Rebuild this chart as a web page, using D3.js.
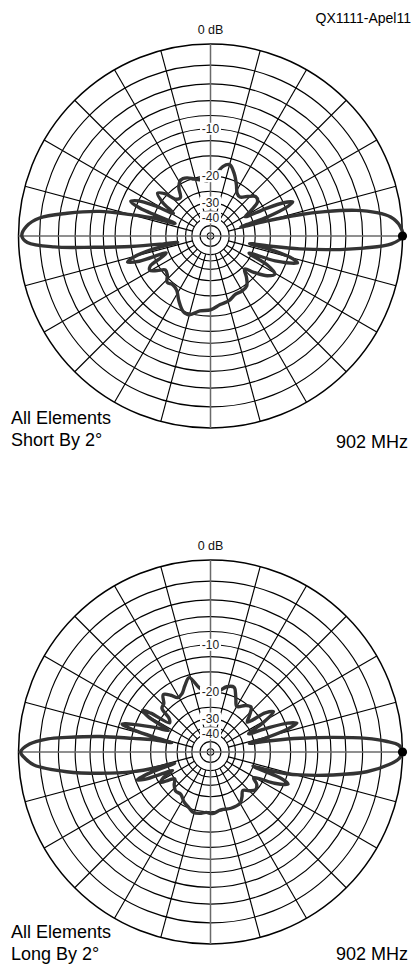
<!DOCTYPE html>
<html>
<head>
<meta charset="utf-8">
<script src="https://cdn.jsdelivr.net/npm/d3@7"></script>
<style>
  html, body { margin: 0; padding: 0; background: #fff; }
  svg { display: block; }
</style>
</head>
<body>
<svg id="chart" width="413" height="965"></svg>
<script>
// ARRL log-periodic grid: ring levels (dB) and labelled rings
const ringLevels = [0, -2, -4, -6, -8, -10, -12, -15, -20, -25, -30, -35, -40, -50, -70];
const ringLabels = [-10, -20, -30, -40];
const spokeStepDeg = 15;
const topLabel = "0 dB";
const figureId = "QX1111-Apel11";
const freqLabel = "902 MHz";

// Pattern, all elements 2% short (azimuth deg, gain dB)
const shortAngles = [0, 3, 6, 8, 10, 12, 13.5, 15, 16.5, 18.5, 20.5, 22.5, 24.5, 26.5, 29, 32, 36, 41, 47, 53,
  58, 63, 69, 75, 80, 86, 93, 100, 106, 112, 118, 123, 128, 133, 137, 141, 145, 148.5, 151.5, 154,
  156.5, 158.5, 160.5, 162.5, 165, 167.5, 171, 174, 177, 180, 182, 184, 185.5, 187.5, 189.5, 191, 193, 195.5, 197.5, 199.5,
  201, 203.5, 206.5, 209.5, 213, 217, 222, 227, 232, 238, 244, 250, 255, 262, 270, 278, 286, 293, 300, 306,
  311, 316, 320, 325, 329.5, 333, 336, 339, 342.8, 345, 347, 349, 350.5, 351.8, 353.5, 355.5, 357.5];
const shortGain = [0, -0.2, -1, -2.3, -4.5, -8.5, -13, -21, -31, -20, -15, -13.2, -15, -20, -27, -24, -20.5, -20, -21.8, -23.5,
  -23, -20.8, -18.2, -16.4, -17.2, -19.8, -21.3, -20.8, -20.2, -19.2, -19, -20.5, -23.5, -23, -19.5, -17.8, -20.5, -25.5, -19, -15,
  -13.6, -16, -28, -20, -14.5, -9, -4.8, -1.9, -0.7, -0.3, -0.8, -3.5, -8.5, -15, -24, -30, -20, -15, -13.6, -16,
  -24, -22, -18, -17.4, -19, -21, -20.5, -19, -19.5, -18.9, -16.8, -15, -14.7, -16, -16.4, -17.5, -18, -19, -19, -19.5,
  -21.5, -24, -21, -17.5, -16.2, -19, -26, -17.5, -12.8, -14.5, -19, -27, -19, -13, -8, -3.8, -1];
const shortCaption = ["All Elements", "Short By 2°"];

// Pattern, all elements 2% long (azimuth deg, gain dB)
const longAngles = [0, 2, 3.5, 5, 6.8, 8.7, 10.5, 11.5, 12.5, 14.5, 16.5, 18.4, 20.5, 23, 25.5, 29, 32.5, 35.5, 39, 43,
  48, 53, 60, 65, 70, 76, 82, 88, 94, 100, 106, 111, 116, 121, 125, 129.5, 134, 138, 141, 144.5,
  147, 148.5, 150.5, 153, 156, 160, 162.5, 164, 165.5, 166.5, 168, 170, 172, 174.2, 175.4, 177.5, 180, 182, 184.2, 187.8,
  190.9, 194.3, 196.3, 197.5, 199, 200.8, 202.5, 204.5, 206, 208.5, 211.5, 214, 217, 222, 228, 235, 242, 249, 254, 260,
  266, 272, 280, 290, 300, 305, 310, 315, 320, 325, 329, 331.5, 334, 337.5, 339.5, 340.5, 341.5, 342.5, 344, 345.6,
  349.4, 352.8, 356, 358];
const longGain = [0, -0.3, -1.5, -3.5, -7.6, -12.9, -19, -23, -27, -20, -15, -12.8, -14.5, -20, -26, -20, -16.2, -18, -24, -22,
  -19.8, -20.5, -22.2, -20, -17.6, -18, -19.5, -20.3, -20, -18.5, -15.6, -17, -18.6, -19, -17.5, -16.3, -18, -18.5, -22, -23,
  -17, -15.1, -17, -24, -20, -15, -12.5, -15, -22, -27, -20, -15.4, -9.3, -4.9, -2.8, -1, -0.2, -0.6, -1.4, -4.8,
  -9.2, -15.1, -22, -28, -19, -15.3, -17, -23, -26, -22, -20.5, -23, -25, -23.5, -22.3, -22.5, -21, -20, -19.2, -19.3,
  -19.8, -19.5, -20.3, -20, -20.2, -21.5, -23, -21.5, -20.3, -21, -23, -21, -17, -14.2, -16, -21, -25, -20, -15.5, -12.6,
  -7.4, -3.4, -1.2, -0.3];
const longCaption = ["All Elements", "Long By 2°"];

const svg = d3.select("#chart");
const font = "'Liberation Sans', Arial, Helvetica, sans-serif";
const R = 192;

// ARRL scale: every 2 dB the radius shrinks by a factor 0.89
const radial = d3.scaleLinear().domain([0, 1]).range([0, R]);
const rOf = dB => radial(Math.pow(0.89, -dB / 2));
// azimuth (counter-clockwise from the right) to d3 radial angle (clockwise from top)
const angle = d3.scaleLinear().domain([0, 360]).range([Math.PI / 2, Math.PI / 2 - 2 * Math.PI]);

function drawPolar(cx, cy, angles, gains, caption, captionY, freqY, topY) {
  const g = svg.append("g").attr("transform", `translate(${cx},${cy})`);

  // rings
  g.append("g").selectAll("circle").data(ringLevels).join("circle")
    .attr("r", d => rOf(d))
    .attr("fill", "none")
    .attr("stroke", "#000")
    .attr("stroke-width", d => d === 0 ? 1.5 : 1.15);

  // spokes every 15 degrees, from the -40 dB ring outwards
  const spokes = d3.range(0, 360, spokeStepDeg).filter(a => a % 90 !== 0);
  const rIn = rOf(-40);
  g.append("g").selectAll("line").data(spokes).join("line")
    .attr("x1", a => rIn * Math.cos(a * Math.PI / 180))
    .attr("y1", a => -rIn * Math.sin(a * Math.PI / 180))
    .attr("x2", a => R * Math.cos(a * Math.PI / 180))
    .attr("y2", a => -R * Math.sin(a * Math.PI / 180))
    .attr("stroke", "#000")
    .attr("stroke-width", 1.15);

  // main axes
  g.append("line").attr("x1", -R).attr("x2", R).attr("y1", 0).attr("y2", 0)
    .attr("stroke", "#6a6a6a").attr("stroke-width", 1.5);
  g.append("line").attr("x1", 0).attr("x2", 0).attr("y1", -R).attr("y2", R)
    .attr("stroke", "#6a6a6a").attr("stroke-width", 1.5);

  // pattern trace
  const pts = angles.map((a, i) => [a, gains[i]]);
  const line = d3.lineRadial()
    .angle(d => angle(d[0]))
    .radius(d => rOf(d[1]))
    .curve(d3.curveCatmullRomClosed.alpha(0.5));
  g.append("path").datum(pts)
    .attr("d", line)
    .attr("fill", "none")
    .attr("stroke", "#333")
    .attr("stroke-width", 3.4)
    .attr("stroke-linejoin", "round");

  // marker at the forward maximum
  g.append("circle")
    .attr("cx", rOf(gains[0]) * Math.cos(0))
    .attr("cy", 0)
    .attr("r", 4.6)
    .attr("fill", "#000");

  // dB labels on the vertical axis
  const lab = g.append("g").selectAll("g").data(ringLabels).join("g")
    .attr("transform", d => `translate(0,${-rOf(d)})`);
  lab.append("rect")
    .attr("x", -10.5).attr("y", -6).attr("width", 21).attr("height", 12)
    .attr("fill", "#fff");
  lab.append("text")
    .attr("text-anchor", "middle")
    .attr("dy", "0.36em")
    .attr("font-family", font)
    .attr("font-size", 12)
    .attr("fill", "#222")
    .text(d => d);

  // 0 dB caption
  svg.append("text")
    .attr("x", cx).attr("y", topY)
    .attr("text-anchor", "middle")
    .attr("font-family", font)
    .attr("font-size", 12.5)
    .attr("fill", "#111")
    .text(topLabel);

  // bottom captions
  svg.append("text")
    .attr("font-family", font)
    .attr("font-size", 18)
    .attr("fill", "#000")
    .selectAll("tspan").data(caption).join("tspan")
    .attr("x", 11)
    .attr("y", (d, i) => captionY + i * 21.5)
    .text(d => d);
  svg.append("text")
    .attr("x", 408).attr("y", freqY)
    .attr("text-anchor", "end")
    .attr("font-family", font)
    .attr("font-size", 18)
    .attr("fill", "#000")
    .text(freqLabel);
}

drawPolar(210.5, 236, shortAngles, shortGain, shortCaption, 424, 448, 34);
drawPolar(210.5, 752, longAngles, longGain, longCaption, 938, 959.5, 550);

svg.append("text")
  .attr("x", 411).attr("y", 23)
  .attr("text-anchor", "end")
  .attr("font-family", font)
  .attr("font-size", 14)
  .attr("fill", "#000")
  .text(figureId);
</script>
</body>
</html>
